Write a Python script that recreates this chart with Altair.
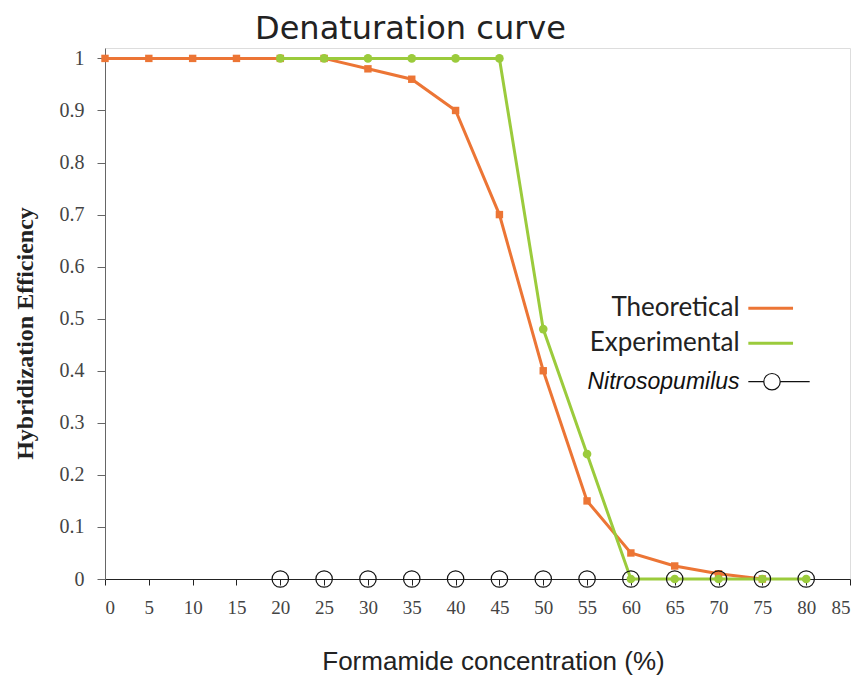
import altair as alt
import pandas as pd

# ---- data ----
theo_conc = [0, 5, 10, 15, 20, 25, 30, 35, 40, 45, 50, 55, 60, 65, 70, 75]
theo_eff = [1, 1, 1, 1, 1, 1, 0.98, 0.96, 0.90, 0.70, 0.40, 0.15, 0.05, 0.025, 0.01, 0.0]

exp_conc = [20, 25, 30, 35, 40, 45, 50, 55, 60, 65, 70, 75, 80]
exp_eff = [1, 1, 1, 1, 1, 1, 0.48, 0.24, 0, 0, 0, 0, 0]

nitro_conc = [20, 25, 30, 35, 40, 45, 50, 55, 60, 65, 70, 75, 80]
nitro_eff = [0, 0, 0, 0, 0, 0, 0, 0, 0, 0, 0, 0, 0]

x_ticks = [0, 5, 10, 15, 20, 25, 30, 35, 40, 45, 50, 55, 60, 65, 70, 75, 80, 85]
y_ticks = [0, 0.1, 0.2, 0.3, 0.4, 0.5, 0.6, 0.7, 0.8, 0.9, 1.0]

legend_labels = ["Theoretical", "Experimental", "Nitrosopumilus"]

ORANGE = "#EC7535"
GREEN = "#9BCB3C"

theo = pd.DataFrame({"conc": theo_conc, "eff": theo_eff})
exp = pd.DataFrame({"conc": exp_conc, "eff": exp_eff})
nitro = pd.DataFrame({"conc": nitro_conc, "eff": nitro_eff})

xs = alt.Scale(domain=[0, 85], nice=False)
ys = alt.Scale(domain=[0, 1.02], nice=False)

xaxis = alt.Axis(values=x_ticks, grid=False, domainColor="#222", tickColor="#222",
                 tickSize=6, labelPadding=13, labelFont="Liberation Serif", labelFontSize=19,
                 labelColor="#444", title="Formamide concentration (%)",
                 titleFont="Liberation Sans", titleFontSize=26, titleFontWeight="normal",
                 titleColor="#222", titlePadding=31, titleX=388)
yaxis = alt.Axis(values=y_ticks, format=".1~f", grid=False, domainColor="#666", tickColor="#666",
                 tickSize=8, labelPadding=13, labelFont="Liberation Serif", labelFontSize=20,
                 labelColor="#444", title="Hybridization Efficiency",
                 titleFont="Liberation Serif", titleFontSize=24, titleFontWeight="bold",
                 titleColor="#222", titlePadding=22, titleY=285)

X = alt.X("conc:Q", scale=xs, axis=xaxis)
Y = alt.Y("eff:Q", scale=ys, axis=yaxis)

theo_line = alt.Chart(theo).mark_line(color=ORANGE, strokeWidth=3).encode(x=X, y=Y)
theo_pts = alt.Chart(theo).mark_point(shape="square", filled=True, color=ORANGE, size=55, opacity=1).encode(x="conc:Q", y="eff:Q")
exp_line = alt.Chart(exp).mark_line(color=GREEN, strokeWidth=3).encode(x="conc:Q", y="eff:Q")
exp_pts = alt.Chart(exp).mark_point(shape="circle", filled=True, color=GREEN, size=75, opacity=1).encode(x="conc:Q", y="eff:Q")
nitro_pts = alt.Chart(nitro).mark_point(shape="circle", filled=False, color="#111", size=270,
                                         strokeWidth=1.2, opacity=1).encode(x="conc:Q", y="eff:Q")

# ---- custom legend (labels left of their swatches) ----
leg = pd.DataFrame({
    "label": legend_labels,
    "tx": [72.4, 72.4, 72.4],
    "ty": [0.52, 0.453, 0.379],
    "x1": [73.4, 73.4, 73.4],
    "x2": [78.5, 78.5, 80.4],
    "col": [ORANGE, GREEN, "#111"],
    "sw": [3, 3, 1.2],
})
leg_text1 = alt.Chart(leg.iloc[:2]).mark_text(align="right", baseline="middle", font="Lato",
                                              fontSize=26, color="#222").encode(
    x="tx:Q", y="ty:Q", text="label:N")
leg_text2 = alt.Chart(leg.iloc[2:]).mark_text(align="right", baseline="middle", font="Liberation Sans",
                                              fontSize=23, fontStyle="italic", color="#111").encode(
    x="tx:Q", y="ty:Q", text="label:N")
leg_rules = alt.Chart(leg).mark_rule().encode(
    x="x1:Q", x2="x2:Q", y="ty:Q",
    color=alt.Color("col:N", scale=None), strokeWidth=alt.StrokeWidth("sw:Q", scale=None))
leg_circle = alt.Chart(leg.iloc[2:]).mark_point(shape="circle", filled=True, fill="white", stroke="#111",
                                               size=270, strokeWidth=1.2, opacity=1).encode(
    x=alt.datum(76.1), y="ty:Q")

chart = alt.layer(
    theo_line, exp_line, theo_pts, exp_pts, nitro_pts,
    leg_rules, leg_circle, leg_text1, leg_text2
).properties(
    width=745, height=531,
    title=alt.Title("Denaturation curve", font="DejaVu Sans", fontSize=32, fontWeight="normal",
                    color="#222", anchor="middle", dx=-67, offset=2),
).configure_view(stroke=None).configure(background="white")

chart.save("out.html", embed_options={"renderer": "svg", "actions": False})
